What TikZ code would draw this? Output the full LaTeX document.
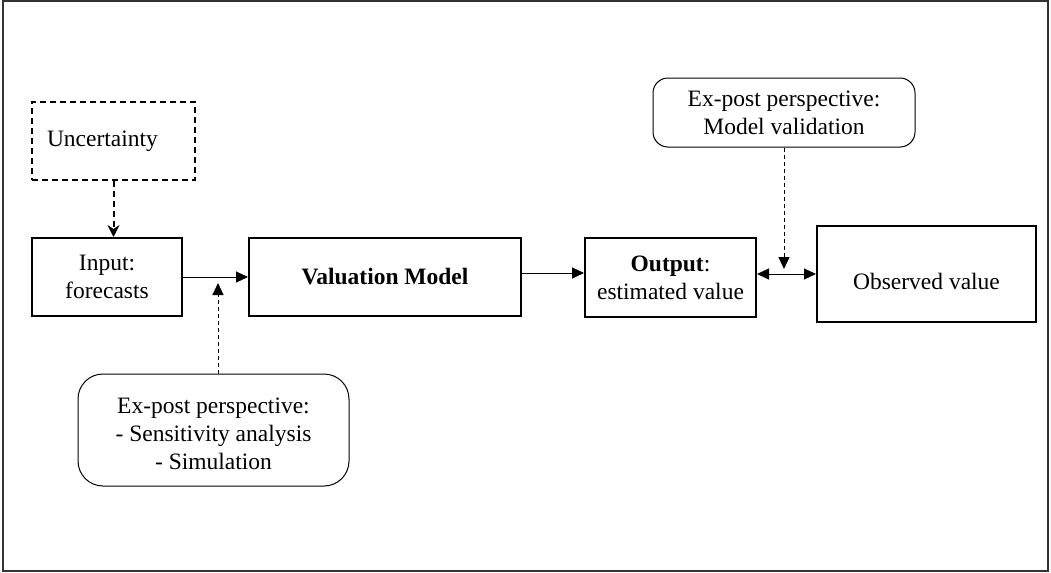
\documentclass[tikz,border=0pt]{standalone}
\usepackage{fontspec}
\setmainfont{Liberation Serif}
\usetikzlibrary{arrows.meta}

\begin{document}
\begin{tikzpicture}[x=0.5pt,y=-0.5pt,font=\fontsize{11.75}{14}\selectfont,
  box/.style={draw,line width=1pt,align=center,inner sep=0pt},
  dbox/.style={box,dash pattern=on 3pt off 2pt},
  rbox/.style={draw,line width=0.5pt,align=center,inner sep=0pt},
  conn/.style={line width=0.5pt,-{Triangle[length=6pt,width=5.5pt]}},
  dconn/.style={conn,dash pattern=on 2pt off 1.5pt},
  uconn/.style={line width=1pt,dash pattern=on 3pt off 2pt,-{Stealth[length=6pt,width=6pt,inset=2pt]}}]
  \useasboundingbox (0,0) rectangle (1051,573);
  \draw[line width=0.75pt,black!80] (3,1) rectangle (1048,571);

  \node[dbox,minimum height=39pt,text width=66.5pt,inner xsep=7.5pt,align=left](unc) at (113.5,141) {Uncertainty};
  \node[box,minimum width=75pt,minimum height=39pt](inp) at (107,277) {Input:\\forecasts};
  \node[box,minimum width=136pt,minimum height=39pt](val) at (385,277) {\textbf{Valuation Model}};
  \node[box,minimum width=85.5pt,minimum height=39.5pt](out) at (670.5,277.5) {\textbf{Output}:\\estimated value};
  \node[box,minimum width=109.5pt,minimum height=48pt,text height=16pt](obs) at (926.5,274) {Observed value};
  \node[rbox,rounded corners=12.5pt,minimum width=135.5pt,minimum height=56pt](sim) at (213.5,430) {\rule{0pt}{12pt}Ex-post perspective:\\- Sensitivity analysis\\- Simulation};
  \node[rbox,rounded corners=7.5pt,minimum width=131pt,minimum height=34.5pt](mv) at (784,112.5) {Ex-post perspective:\\Model validation};

  \coordinate (j1) at (218,283);
  \coordinate (j2) at (784,269);

  \draw[uconn] (unc.south) -- (inp.north -| unc.south);
  \draw[conn] (inp) -- (val);
  \draw[conn] ([yshift=2pt]val.east) -- ([yshift=2pt]val.east -| out.west);
  \draw[conn,{Triangle[length=6pt,width=5.5pt]}-{Triangle[length=6pt,width=5.5pt]}] (out.east |- obs.west) -- (obs.west);
  \draw[dconn] (sim.north -| j1) -- (j1);
  \draw[dconn] (mv.south) -- (j2);
\end{tikzpicture}
\end{document}
